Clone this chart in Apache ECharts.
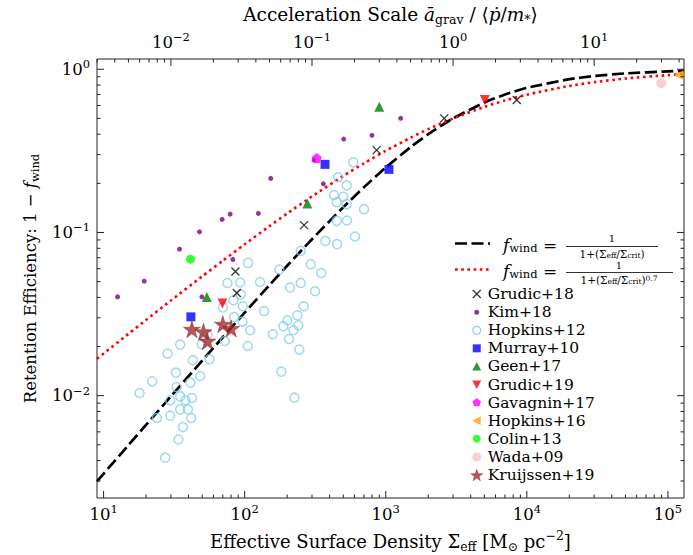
<!DOCTYPE html>
<html><head><meta charset="utf-8">
<script src="https://cdn.jsdelivr.net/npm/echarts@6/dist/echarts.min.js"></script>
<style>html,body{margin:0;padding:0;background:#fff}#c{width:693px;height:555px}</style>
</head><body><div id="c"></div>
<script>
// ---------- axis ranges & ticks ----------
const X_MIN = 8.98, X_MAX = 1.3e5, Y_MIN = 0.00236, Y_MAX = 1.156;
const SIGMA_CRIT = 3000;
const xTicks = [10, 20, 30, 40, 50, 60, 70, 80, 90, 100, 200, 300, 400, 500, 600, 700, 800, 900,
  1000, 2000, 3000, 4000, 5000, 6000, 7000, 8000, 9000, 10000, 20000, 30000, 40000, 50000, 60000, 70000, 80000, 90000, 100000];
const yTicks = [0.003, 0.004, 0.005, 0.006, 0.007, 0.008, 0.009, 0.01, 0.02, 0.03, 0.04, 0.05, 0.06, 0.07, 0.08, 0.09,
  0.1, 0.2, 0.3, 0.4, 0.5, 0.6, 0.7, 0.8, 0.9, 1];
const topTicks = [0.003, 0.004, 0.005, 0.006, 0.007, 0.008, 0.009, 0.01, 0.02, 0.03, 0.04, 0.05, 0.06, 0.07, 0.08, 0.09,
  0.1, 0.2, 0.3, 0.4, 0.5, 0.6, 0.7, 0.8, 0.9, 1, 2, 3, 4, 5, 6, 7, 8, 9, 10, 20, 30, 40];

// ---------- model curves ----------
const curveSigma = [8.98, 10, 15, 20, 30, 50, 70, 100, 150, 200, 300, 500, 700, 1000, 1500, 2000, 3000, 5000, 7000, 10000, 20000, 30000, 50000, 100000, 130000];
const curveLinear = [0.002984, 0.003322, 0.004975, 0.006623, 0.009901, 0.016393, 0.022801, 0.032258, 0.047619, 0.0625, 0.090909, 0.142857, 0.189189, 0.25, 0.333333, 0.4, 0.5, 0.625, 0.7, 0.769231, 0.869565, 0.909091, 0.943396, 0.970874, 0.977444];
const curvePow07 = [0.016827, 0.018116, 0.023931, 0.02909, 0.03828, 0.05386, 0.067191, 0.08463, 0.10939, 0.1306, 0.1663, 0.222, 0.26529, 0.3167, 0.38103, 0.4295, 0.5, 0.5884, 0.64409, 0.6991, 0.7906, 0.83367, 0.8775, 0.9209, 0.9333];

// ---------- observations / simulations ----------
const grudic18 = [[86.0,0.0576],[88.0,0.0426],[263.5,0.1109],[862,0.3197],[2596,0.5004],[8489,0.648]];
const kim18 = [[12.56,0.0403],[19.41,0.0503],[34.52,0.079],[47.82,0.1009],[69.23,0.1202],[78.89,0.1295],[125.1,0.1308],[49.73,0.0403],[82.42,0.0683],[153.1,0.2145],[361.0,0.1987],[310.2,0.2777],[503.3,0.3736],[798.7,0.3937],[1275,0.5004]];
const hopkins12 = [[17.98,0.01038],[22.12,0.01224],[28.39,0.0181],[34.91,0.02055],[32.55,0.01384],[32.87,0.01129],[29.66,0.00936],[34.91,0.0099],[38.06,0.00936],[42.25,0.00967],[41.29,0.01202],[42.95,0.01647],[48.38,0.01319],[49.73,0.02064],[56.29,0.0167],[54.49,0.02377],[23.88,0.00729],[29.66,0.00754],[34.91,0.00824],[39.58,0.00824],[41.77,0.00729],[36.49,0.00642],[33.96,0.00539],[27.35,0.00417],[70.02,0.03467],[72.35,0.02163],[75.48,0.04906],[84.19,0.03035],[83.24,0.03842],[92.86,0.04935],[93.9,0.04165],[97.0,0.03531],[96.4,0.02844],[109.3,0.02516],[105.3,0.02015],[105.8,0.0651],[128.6,0.04976],[137.3,0.03304],[158.2,0.02377],[176.2,0.05929],[182.0,0.01404],[188.0,0.02661],[200.7,0.02897],[206.4,0.02225],[209.8,0.04599],[221.4,0.02516],[236.3,0.0311],[240.2,0.02699],[244.1,0.01915],[225.0,0.00972],[249.7,0.04906],[262.2,0.03531],[249.7,0.0771],[294.0,0.0639],[315.3,0.04363],[349.4,0.0565],[372.9,0.0888],[449.2,0.1178],[451.4,0.0848],[449.2,0.1535],[588.8,0.2689],[458.8,0.2176],[528.7,0.1943],[429.8,0.1694],[500.1,0.1654],[528.7,0.1492],[701.1,0.139],[531.3,0.1185],[605.4,0.0945]];
const murray10 = [[41.57,0.0304],[371.1,0.2614],[1054,0.2435]];
const geen17 = [[53.95,0.0403],[278,0.1506],[899.5,0.5897]];
const grudic19 = [[69.57,0.0367],[5039,0.648]];
const gavagnin17 = [[324.2,0.2857]];
const hopkins16 = [[119000,0.923]];
const colin13 = [[41.29,0.0686]];
const wada09 = [[89800,0.8207]];
const kruijssen19 = [[42.25,0.0255],[51.05,0.0246],[54.49,0.0216],[70.02,0.0274],[80.2,0.0258]];

// ---------- styling ----------
const FONT = 'DejaVu Serif';
const SYM = {
  cross: 'path://M0,0L10,10M10,0L0,10',
  down: 'path://M0,0L10,0L5,8.66Z',
  left: 'path://M0,5L8.66,0L8.66,10Z',
  pent: 'path://M5,0L9.755,3.455L7.939,9.045L2.061,9.045L0.245,3.455Z',
  star: 'path://M5,0L6.123,3.455L9.755,3.455L6.817,5.59L7.939,9.045L5,6.91L2.061,9.045L3.183,5.59L0.245,3.455L3.877,3.455Z'
};
const ICON = {
  cross: 'path://M0,0M12,12M2,2L10,10M10,2L2,10',
  dot: 'path://M0,0M12,12M6,3.5A2.5,2.5,0,1,1,5.99,3.5Z',
  ring: 'path://M0,0M12,12M6,2A4,4,0,1,1,5.99,2Z',
  square: 'path://M0,0M12,12M2,2H10V10H2Z',
  up: 'path://M0,0M12,12M6,1.5L10.5,10L1.5,10Z',
  down: 'path://M0,0M12,12M1.5,2L10.5,2L6,10.5Z',
  pent: 'path://M0,0M12,12M6,1.5L10.28,4.61L8.65,9.64L3.35,9.64L1.72,4.61Z',
  left: 'path://M0,0M12,12M1.5,6L10,1.5L10,10.5Z',
  circ: 'path://M0,0M12,12M6,2A4,4,0,1,1,5.99,2Z',
  circB: 'path://M0,0M12,12M6,1.5A4.5,4.5,0,1,1,5.99,1.5Z',
  star: 'path://M6,0L7.41,4.15L11.71,4.15L8.18,6.71L9.53,10.85L6,8.29L2.47,10.85L3.82,6.71L0.29,4.15L4.59,4.15Z'
};

const richMath = {
  i: {fontStyle: 'italic', fontFamily: FONT, fontSize: 18.5, color: '#000'},
  s: {fontFamily: FONT, fontSize: 12.5, verticalAlign: 'bottom', lineHeight: 13, color: '#000'},
  p: {fontFamily: FONT, fontSize: 12.5, verticalAlign: 'top', lineHeight: 13, color: '#000'}
};
const richTick = {
  b: {fontFamily: FONT, fontSize: 16.5, lineHeight: 22, color: '#000'},
  sup: {fontFamily: FONT, fontSize: 11.5, verticalAlign: 'top', lineHeight: 13, color: '#000'}
};
function isPow10(v) { const e = Math.log10(v); return Math.abs(e - Math.round(e)) < 1e-6; }
function powLabel(v) {
  if (!isPow10(v)) return '';
  const r = Math.round(Math.log10(v));
  return '{b|10}{sup|' + (r < 0 ? '\u2212' + (-r) : r) + '}';
}

function tickSeries(axisIdx, side, values) {
  const horiz = (side === 'bottom' || side === 'top');
  return {
    type: 'custom', xAxisIndex: axisIdx, yAxisIndex: 0, clip: false, silent: true, z: 5,
    data: values.map(v => horiz ? [v, Y_MIN] : [X_MIN, v]),
    renderItem: (params, api) => {
      const cs = params.coordSys;
      const v = horiz ? api.value(0) : api.value(1);
      const len = isPow10(v) ? 7 : 3.5;
      const p = api.coord([api.value(0), api.value(1)]);
      let shape;
      if (side === 'bottom') shape = {x1: p[0], y1: cs.y + cs.height, x2: p[0], y2: cs.y + cs.height - len};
      else if (side === 'top') shape = {x1: p[0], y1: cs.y, x2: p[0], y2: cs.y + len};
      else if (side === 'left') shape = {x1: cs.x, y1: p[1], x2: cs.x + len, y2: p[1]};
      else shape = {x1: cs.x + cs.width, y1: p[1], x2: cs.x + cs.width - len, y2: p[1]};
      return {type: 'line', shape: shape, style: {stroke: '#222', lineWidth: 1}};
    }
  };
}

function scat(name, data, symbol, size, itemStyle, z) {
  return {name: name, type: 'scatter', data: data, symbol: symbol, symbolSize: size,
    itemStyle: itemStyle, z: z || 3, silent: true};
}

const chart = echarts.init(document.getElementById('c'), null, {renderer: 'svg', width: 693, height: 555});

const option = {
  animation: false,
  backgroundColor: '#fff',
  textStyle: {fontFamily: FONT},
  grid: {left: 97, right: 9, top: 59, bottom: 57, show: true, borderColor: '#222', borderWidth: 1,
    backgroundColor: 'transparent', containLabel: false, outerBoundsMode: 'none'},
  xAxis: [{
    type: 'log', logBase: 10, min: X_MIN, max: X_MAX, position: 'bottom',
    axisLine: {show: false}, axisTick: {show: false}, splitLine: {show: false}, minorTick: {show: false},
    axisLabel: {formatter: powLabel, rich: richTick, margin: 5, showMinLabel: true, showMaxLabel: true, hideOverlap: false},
    name: 'Effective Surface Density \u03A3{s|eff} [M{s|\u2299} pc{p|\u22122}]',
    nameLocation: 'middle', nameGap: 31,
    nameTextStyle: {fontFamily: FONT, fontSize: 18, color: '#000', lineHeight: 24, rich: richMath}
  }, {
    type: 'log', logBase: 10, min: X_MIN / SIGMA_CRIT, max: X_MAX / SIGMA_CRIT, position: 'top',
    axisLine: {show: false}, axisTick: {show: false}, splitLine: {show: false},
    axisLabel: {formatter: powLabel, rich: richTick, margin: 6, hideOverlap: false},
    name: 'Acceleration Scale {i|\u0101}{s|grav} / \u27E8{i|\u1E57}/{i|m}{s|*}\u27E9',
    nameLocation: 'middle', nameGap: 30,
    nameTextStyle: {fontFamily: FONT, fontSize: 18.5, color: '#000', lineHeight: 24, rich: richMath}
  }],
  yAxis: [{
    type: 'log', logBase: 10, min: Y_MIN, max: Y_MAX,
    axisLine: {show: false}, axisTick: {show: false}, splitLine: {show: false},
    axisLabel: {formatter: powLabel, rich: richTick, margin: 7, hideOverlap: false},
    name: 'Retention Efficiency: 1 \u2212 {i|f}{s|wind}',
    nameLocation: 'middle', nameGap: 54, nameRotate: 90,
    nameTextStyle: {fontFamily: FONT, fontSize: 16.5, color: '#000', lineHeight: 22, rich: {
      i: {fontStyle: 'italic', fontFamily: FONT, fontSize: 16.5, color: '#000'},
      s: {fontFamily: FONT, fontSize: 11.5, verticalAlign: 'bottom', lineHeight: 12, color: '#000'}
    }}
  }],
  legend: {
    orient: 'vertical', left: 470, top: 285, padding: 0, itemGap: 0,
    itemWidth: 12, itemHeight: 12, itemTextGap: 23, selectedMode: false,
    formatter: name => '{t|' + name + '}',
    textStyle: {fontFamily: FONT, fontSize: 15.5, color: '#000', lineHeight: 18.1,
      rich: {t: {fontFamily: FONT, fontSize: 15.5, color: '#000', lineHeight: 18.1}}},
    data: [
      {name: 'Grudic+18', icon: ICON.cross, itemStyle: {color: 'transparent', borderColor: '#000', borderWidth: 1.3}},
      {name: 'Kim+18', icon: ICON.dot, itemStyle: {color: '#800080', borderWidth: 0}},
      {name: 'Hopkins+12', icon: ICON.ring, itemStyle: {color: 'transparent', borderColor: '#87CEEB', borderWidth: 1.5}},
      {name: 'Murray+10', icon: ICON.square, itemStyle: {color: '#0000FF', borderWidth: 0}},
      {name: 'Geen+17', icon: ICON.up, itemStyle: {color: '#008000', borderWidth: 0}},
      {name: 'Grudic+19', icon: ICON.down, itemStyle: {color: '#FF0000', borderWidth: 0}},
      {name: 'Gavagnin+17', icon: ICON.pent, itemStyle: {color: '#FF00FF', borderWidth: 0}},
      {name: 'Hopkins+16', icon: ICON.left, itemStyle: {color: '#FFA500', borderWidth: 0}},
      {name: 'Colin+13', icon: ICON.circ, itemStyle: {color: '#00FF00', borderWidth: 0}},
      {name: 'Wada+09', icon: ICON.circB, itemStyle: {color: '#FFC0CB', borderWidth: 0}},
      {name: 'Kruijssen+19', icon: ICON.star, itemStyle: {color: '#A52A2A', borderColor: '#7d1f1f', borderWidth: 0.5}}
    ]
  },
  graphic: [
    {type: 'line', shape: {x1: 455, y1: 243.5, x2: 490, y2: 243.5}, style: {stroke: '#000', lineWidth: 2.7, lineDash: [12, 4.5]}},
    {type: 'text', x: 503, y: 245, style: {text: '{i|f}{s|wind} =', fontFamily: FONT, fontSize: 17, fill: '#000', verticalAlign: 'middle',
      rich: {i: {fontStyle: 'italic', fontFamily: FONT, fontSize: 17}, s: {fontFamily: FONT, fontSize: 11.5, verticalAlign: 'bottom', lineHeight: 12}}}},
    {type: 'text', x: 612, y: 238.5, style: {text: '1', fontFamily: FONT, fontSize: 10, fill: '#000', align: 'center', verticalAlign: 'middle'}},
    {type: 'line', shape: {x1: 566, y1: 246.5, x2: 658, y2: 246.5}, style: {stroke: '#000', lineWidth: 0.8}},
    {type: 'text', x: 612, y: 253.5, style: {text: '1+(\u03A3{t|eff}/\u03A3{t|crit})', fontFamily: FONT, fontSize: 10.5, fill: '#000', align: 'center', verticalAlign: 'middle',
      rich: {t: {fontFamily: FONT, fontSize: 7.5, verticalAlign: 'bottom', lineHeight: 8}}}},

    {type: 'line', shape: {x1: 455, y1: 269.5, x2: 490, y2: 269.5}, style: {stroke: '#FF0000', lineWidth: 2.6, lineDash: [2.6, 3.6]}},
    {type: 'text', x: 503, y: 271, style: {text: '{i|f}{s|wind} =', fontFamily: FONT, fontSize: 17, fill: '#000', verticalAlign: 'middle',
      rich: {i: {fontStyle: 'italic', fontFamily: FONT, fontSize: 17}, s: {fontFamily: FONT, fontSize: 11.5, verticalAlign: 'bottom', lineHeight: 12}}}},
    {type: 'text', x: 619, y: 265.5, style: {text: '1', fontFamily: FONT, fontSize: 10, fill: '#000', align: 'center', verticalAlign: 'middle'}},
    {type: 'line', shape: {x1: 566, y1: 272.5, x2: 673, y2: 272.5}, style: {stroke: '#000', lineWidth: 0.8}},
    {type: 'text', x: 619, y: 279.5, style: {text: '1+(\u03A3{t|eff}/\u03A3{t|crit}){u|0.7}', fontFamily: FONT, fontSize: 10.5, fill: '#000', align: 'center', verticalAlign: 'middle',
      rich: {t: {fontFamily: FONT, fontSize: 7.5, verticalAlign: 'bottom', lineHeight: 8}, u: {fontFamily: FONT, fontSize: 7.5, verticalAlign: 'top', lineHeight: 8}}}}
  ],
  series: [
    tickSeries(0, 'bottom', xTicks),
    tickSeries(1, 'top', topTicks),
    tickSeries(0, 'left', yTicks),
    tickSeries(0, 'right', yTicks),
    {name: 'linear', type: 'line', data: curveSigma.map((s, i) => [s, curveLinear[i]]), showSymbol: false, smooth: 0.2, z: 2, silent: true,
      lineStyle: {color: '#000', width: 2.7, type: [12, 4.5]}},
    {name: 'pow07', type: 'line', data: curveSigma.map((s, i) => [s, curvePow07[i]]), showSymbol: false, smooth: 0.2, z: 2, silent: true,
      lineStyle: {color: '#FF0000', width: 2.6, type: [2.6, 3.6]}},
    scat('Hopkins+12', hopkins12, 'circle', 9, {color: 'transparent', borderColor: '#87CEEB', borderWidth: 1.5}),
    scat('Kim+18', kim18, 'circle', 5, {color: '#800080'}),
    scat('Grudic+18', grudic18, SYM.cross, 8, {color: 'transparent', borderColor: '#000', borderWidth: 1.3}),
    scat('Murray+10', murray10, 'rect', 9, {color: '#0000FF'}),
    scat('Geen+17', geen17, 'triangle', 10, {color: '#008000'}),
    scat('Grudic+19', grudic19, SYM.down, 10, {color: '#FF0000'}),
    scat('Gavagnin+17', gavagnin17, SYM.pent, 10, {color: '#FF00FF'}),
    scat('Hopkins+16', hopkins16, SYM.left, 10, {color: '#FFA500'}),
    scat('Colin+13', colin13, 'circle', 9, {color: '#00FF00'}),
    scat('Wada+09', wada09, 'circle', 10, {color: '#FFC0CB'}),
    scat('Kruijssen+19', kruijssen19, SYM.star, 17, {color: '#A52A2A', borderColor: '#7d1f1f', borderWidth: 0.5}, 4)
  ]
};
chart.setOption(option);
</script>
</body></html>
